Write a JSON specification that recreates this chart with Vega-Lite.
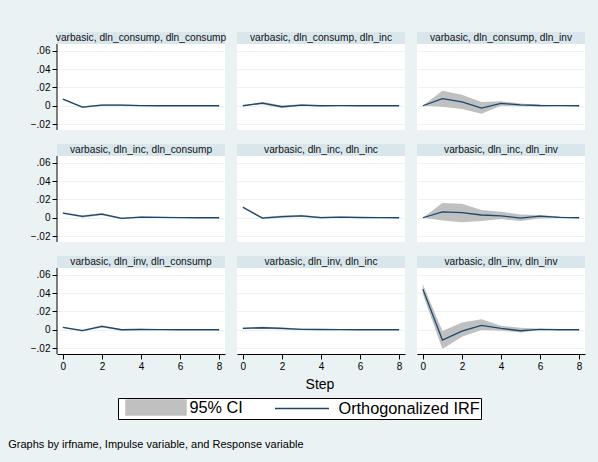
{
  "$schema": "https://vega.github.io/schema/vega-lite/v6.json",
  "background": "#EAF2F3",
  "padding": {"left": 8, "top": 31, "right": 15, "bottom": 14},
  "bounds": "flush",
  "config": {
    "font": "Liberation Sans",
    "view": {"fill": "white", "stroke": null},
    "axis": {"labelColor": "black", "tickColor": "black", "domainColor": "black", "labelFont": "Liberation Sans", "labelOverlap": false},
    "axisY": {"labelOverlap": false}
  },
  "title": {"text": "Graphs by irfname, Impulse variable, and Response variable", "orient": "bottom", "anchor": "start", "frame": "bounds", "fontSize": 11, "fontWeight": "normal", "color": "black", "font": "Liberation Sans", "offset": 19, "dx": -22},
  "data": {"values": [
    {"panel": "varbasic, dln_consump, dln_consump", "step": 0, "irf": 0.0073, "lo": 0.0066, "hi": 0.0080},
    {"panel": "varbasic, dln_consump, dln_consump", "step": 1, "irf": -0.0015, "lo": -0.0025, "hi": -0.0005},
    {"panel": "varbasic, dln_consump, dln_consump", "step": 2, "irf": 0.0007, "lo": -0.0003, "hi": 0.0017},
    {"panel": "varbasic, dln_consump, dln_consump", "step": 3, "irf": 0.0007, "lo": -0.0002, "hi": 0.0016},
    {"panel": "varbasic, dln_consump, dln_consump", "step": 4, "irf": 0.0001, "lo": -0.0005, "hi": 0.0007},
    {"panel": "varbasic, dln_consump, dln_consump", "step": 5, "irf": 0.0000, "lo": -0.0003, "hi": 0.0003},
    {"panel": "varbasic, dln_consump, dln_consump", "step": 6, "irf": 0.0000, "lo": -0.0002, "hi": 0.0002},
    {"panel": "varbasic, dln_consump, dln_consump", "step": 7, "irf": 0.0000, "lo": -0.0001, "hi": 0.0001},
    {"panel": "varbasic, dln_consump, dln_consump", "step": 8, "irf": 0.0000, "lo": 0.0000, "hi": 0.0000},
    {"panel": "varbasic, dln_consump, dln_inc", "step": 0, "irf": 0.0000, "lo": 0.0000, "hi": 0.0000},
    {"panel": "varbasic, dln_consump, dln_inc", "step": 1, "irf": 0.0029, "lo": 0.0014, "hi": 0.0044},
    {"panel": "varbasic, dln_consump, dln_inc", "step": 2, "irf": -0.0011, "lo": -0.0025, "hi": 0.0003},
    {"panel": "varbasic, dln_consump, dln_inc", "step": 3, "irf": 0.0007, "lo": -0.0003, "hi": 0.0017},
    {"panel": "varbasic, dln_consump, dln_inc", "step": 4, "irf": 0.0000, "lo": -0.0006, "hi": 0.0006},
    {"panel": "varbasic, dln_consump, dln_inc", "step": 5, "irf": 0.0001, "lo": -0.0003, "hi": 0.0004},
    {"panel": "varbasic, dln_consump, dln_inc", "step": 6, "irf": 0.0000, "lo": -0.0002, "hi": 0.0002},
    {"panel": "varbasic, dln_consump, dln_inc", "step": 7, "irf": 0.0000, "lo": -0.0001, "hi": 0.0001},
    {"panel": "varbasic, dln_consump, dln_inc", "step": 8, "irf": 0.0000, "lo": 0.0000, "hi": 0.0000},
    {"panel": "varbasic, dln_consump, dln_inv", "step": 0, "irf": 0.0000, "lo": 0.0000, "hi": 0.0000},
    {"panel": "varbasic, dln_consump, dln_inv", "step": 1, "irf": 0.0077, "lo": -0.0010, "hi": 0.0165},
    {"panel": "varbasic, dln_consump, dln_inv", "step": 2, "irf": 0.0042, "lo": -0.0035, "hi": 0.0120},
    {"panel": "varbasic, dln_consump, dln_inv", "step": 3, "irf": -0.0025, "lo": -0.0088, "hi": 0.0040},
    {"panel": "varbasic, dln_consump, dln_inv", "step": 4, "irf": 0.0025, "lo": 0.0000, "hi": 0.0050},
    {"panel": "varbasic, dln_consump, dln_inv", "step": 5, "irf": 0.0010, "lo": -0.0006, "hi": 0.0025},
    {"panel": "varbasic, dln_consump, dln_inv", "step": 6, "irf": 0.0003, "lo": -0.0008, "hi": 0.0012},
    {"panel": "varbasic, dln_consump, dln_inv", "step": 7, "irf": 0.0002, "lo": -0.0003, "hi": 0.0006},
    {"panel": "varbasic, dln_consump, dln_inv", "step": 8, "irf": 0.0000, "lo": 0.0000, "hi": 0.0000},
    {"panel": "varbasic, dln_inc, dln_consump", "step": 0, "irf": 0.0051, "lo": 0.0043, "hi": 0.0059},
    {"panel": "varbasic, dln_inc, dln_consump", "step": 1, "irf": 0.0015, "lo": 0.0003, "hi": 0.0027},
    {"panel": "varbasic, dln_inc, dln_consump", "step": 2, "irf": 0.0040, "lo": 0.0028, "hi": 0.0052},
    {"panel": "varbasic, dln_inc, dln_consump", "step": 3, "irf": -0.0007, "lo": -0.0017, "hi": 0.0003},
    {"panel": "varbasic, dln_inc, dln_consump", "step": 4, "irf": 0.0007, "lo": -0.0001, "hi": 0.0015},
    {"panel": "varbasic, dln_inc, dln_consump", "step": 5, "irf": 0.0004, "lo": -0.0002, "hi": 0.0010},
    {"panel": "varbasic, dln_inc, dln_consump", "step": 6, "irf": 0.0001, "lo": -0.0002, "hi": 0.0004},
    {"panel": "varbasic, dln_inc, dln_consump", "step": 7, "irf": 0.0000, "lo": -0.0001, "hi": 0.0001},
    {"panel": "varbasic, dln_inc, dln_consump", "step": 8, "irf": 0.0000, "lo": 0.0000, "hi": 0.0000},
    {"panel": "varbasic, dln_inc, dln_inc", "step": 0, "irf": 0.0115, "lo": 0.0105, "hi": 0.0125},
    {"panel": "varbasic, dln_inc, dln_inc", "step": 1, "irf": -0.0003, "lo": -0.0014, "hi": 0.0008},
    {"panel": "varbasic, dln_inc, dln_inc", "step": 2, "irf": 0.0012, "lo": -0.0001, "hi": 0.0025},
    {"panel": "varbasic, dln_inc, dln_inc", "step": 3, "irf": 0.0020, "lo": 0.0008, "hi": 0.0032},
    {"panel": "varbasic, dln_inc, dln_inc", "step": 4, "irf": 0.0001, "lo": -0.0008, "hi": 0.0010},
    {"panel": "varbasic, dln_inc, dln_inc", "step": 5, "irf": 0.0007, "lo": -0.0001, "hi": 0.0015},
    {"panel": "varbasic, dln_inc, dln_inc", "step": 6, "irf": 0.0003, "lo": -0.0002, "hi": 0.0008},
    {"panel": "varbasic, dln_inc, dln_inc", "step": 7, "irf": 0.0001, "lo": -0.0001, "hi": 0.0003},
    {"panel": "varbasic, dln_inc, dln_inc", "step": 8, "irf": 0.0000, "lo": 0.0000, "hi": 0.0000},
    {"panel": "varbasic, dln_inc, dln_inv", "step": 0, "irf": 0.0000, "lo": 0.0000, "hi": 0.0000},
    {"panel": "varbasic, dln_inc, dln_inv", "step": 1, "irf": 0.0065, "lo": -0.0030, "hi": 0.0160},
    {"panel": "varbasic, dln_inc, dln_inv", "step": 2, "irf": 0.0055, "lo": -0.0050, "hi": 0.0153},
    {"panel": "varbasic, dln_inc, dln_inv", "step": 3, "irf": 0.0030, "lo": -0.0036, "hi": 0.0084},
    {"panel": "varbasic, dln_inc, dln_inv", "step": 4, "irf": 0.0020, "lo": -0.0015, "hi": 0.0065},
    {"panel": "varbasic, dln_inc, dln_inv", "step": 5, "irf": -0.0003, "lo": -0.0036, "hi": 0.0036},
    {"panel": "varbasic, dln_inc, dln_inv", "step": 6, "irf": 0.0018, "lo": -0.0007, "hi": 0.0030},
    {"panel": "varbasic, dln_inc, dln_inv", "step": 7, "irf": 0.0004, "lo": -0.0004, "hi": 0.0015},
    {"panel": "varbasic, dln_inc, dln_inv", "step": 8, "irf": 0.0000, "lo": 0.0000, "hi": 0.0000},
    {"panel": "varbasic, dln_inv, dln_consump", "step": 0, "irf": 0.0026, "lo": 0.0018, "hi": 0.0034},
    {"panel": "varbasic, dln_inv, dln_consump", "step": 1, "irf": -0.0010, "lo": -0.0020, "hi": 0.0000},
    {"panel": "varbasic, dln_inv, dln_consump", "step": 2, "irf": 0.0037, "lo": 0.0025, "hi": 0.0049},
    {"panel": "varbasic, dln_inv, dln_consump", "step": 3, "irf": 0.0000, "lo": -0.0009, "hi": 0.0009},
    {"panel": "varbasic, dln_inv, dln_consump", "step": 4, "irf": 0.0003, "lo": -0.0004, "hi": 0.0010},
    {"panel": "varbasic, dln_inv, dln_consump", "step": 5, "irf": 0.0001, "lo": -0.0002, "hi": 0.0004},
    {"panel": "varbasic, dln_inv, dln_consump", "step": 6, "irf": 0.0000, "lo": -0.0001, "hi": 0.0001},
    {"panel": "varbasic, dln_inv, dln_consump", "step": 7, "irf": 0.0000, "lo": 0.0000, "hi": 0.0000},
    {"panel": "varbasic, dln_inv, dln_consump", "step": 8, "irf": 0.0000, "lo": 0.0000, "hi": 0.0000},
    {"panel": "varbasic, dln_inv, dln_inc", "step": 0, "irf": 0.0015, "lo": 0.0005, "hi": 0.0025},
    {"panel": "varbasic, dln_inv, dln_inc", "step": 1, "irf": 0.0022, "lo": 0.0010, "hi": 0.0034},
    {"panel": "varbasic, dln_inv, dln_inc", "step": 2, "irf": 0.0015, "lo": 0.0003, "hi": 0.0027},
    {"panel": "varbasic, dln_inv, dln_inc", "step": 3, "irf": 0.0004, "lo": -0.0004, "hi": 0.0012},
    {"panel": "varbasic, dln_inv, dln_inc", "step": 4, "irf": 0.0003, "lo": -0.0003, "hi": 0.0009},
    {"panel": "varbasic, dln_inv, dln_inc", "step": 5, "irf": 0.0001, "lo": -0.0002, "hi": 0.0004},
    {"panel": "varbasic, dln_inv, dln_inc", "step": 6, "irf": 0.0000, "lo": -0.0001, "hi": 0.0001},
    {"panel": "varbasic, dln_inv, dln_inc", "step": 7, "irf": 0.0000, "lo": 0.0000, "hi": 0.0000},
    {"panel": "varbasic, dln_inv, dln_inc", "step": 8, "irf": 0.0000, "lo": 0.0000, "hi": 0.0000},
    {"panel": "varbasic, dln_inv, dln_inv", "step": 0, "irf": 0.0444, "lo": 0.0389, "hi": 0.0498},
    {"panel": "varbasic, dln_inv, dln_inv", "step": 1, "irf": -0.0113, "lo": -0.0210, "hi": -0.0015},
    {"panel": "varbasic, dln_inv, dln_inv", "step": 2, "irf": -0.0015, "lo": -0.0076, "hi": 0.0080},
    {"panel": "varbasic, dln_inv, dln_inv", "step": 3, "irf": 0.0047, "lo": -0.0004, "hi": 0.0116},
    {"panel": "varbasic, dln_inv, dln_inv", "step": 4, "irf": 0.0015, "lo": -0.0010, "hi": 0.0044},
    {"panel": "varbasic, dln_inv, dln_inv", "step": 5, "irf": -0.0011, "lo": -0.0030, "hi": 0.0022},
    {"panel": "varbasic, dln_inv, dln_inv", "step": 6, "irf": 0.0004, "lo": -0.0004, "hi": 0.0010},
    {"panel": "varbasic, dln_inv, dln_inv", "step": 7, "irf": 0.0000, "lo": -0.0003, "hi": 0.0003},
    {"panel": "varbasic, dln_inv, dln_inv", "step": 8, "irf": 0.0000, "lo": 0.0000, "hi": 0.0000}
  ]},
  "facet": {
    "field": "panel", "type": "nominal",
    "sort": ["varbasic, dln_consump, dln_consump", "varbasic, dln_consump, dln_inc", "varbasic, dln_consump, dln_inv", "varbasic, dln_inc, dln_consump", "varbasic, dln_inc, dln_inc", "varbasic, dln_inc, dln_inv", "varbasic, dln_inv, dln_consump", "varbasic, dln_inv, dln_inc", "varbasic, dln_inv, dln_inv"],
    "header": {"title": "Step", "titleOrient": "bottom", "labels": false, "labelExpr": "''", "labelFontSize": 1, "labelPadding": 0, "titleFontSize": 14, "titleFontWeight": "normal", "titleColor": "black", "titleFont": "Liberation Sans", "titlePadding": 7}
  },
  "columns": 3,
  "spacing": {"row": 14, "column": 12},
  "spec": {
    "width": 168,
    "height": 98,
    "layer": [
      {
        "transform": [{"filter": "datum.step == 0"}],
        "mark": {"type": "rect", "color": "#D9E6EB"},
        "encoding": {
          "x": {"datum": -0.3, "type": "quantitative", "scale": {"domain": [-0.3, 8.3], "nice": false, "zero": false}},
          "x2": {"datum": 8.3},
          "y": {"datum": 0.0675, "type": "quantitative", "scale": {"domain": [-0.0265, 0.0806], "nice": false, "zero": false}},
          "y2": {"datum": 0.0806}
        }
      },
      {
        "transform": [{"filter": "datum.step == 0"}],
        "mark": {"type": "text", "fontSize": 10.2, "color": "#111111", "font": "Liberation Sans", "baseline": "middle"},
        "encoding": {
          "x": {"datum": 4, "type": "quantitative"},
          "y": {"datum": 0.0742, "type": "quantitative"},
          "text": {"field": "panel"}
        }
      },
      {
        "mark": {"type": "area", "opacity": 1},
        "encoding": {
          "x": {"field": "step", "type": "quantitative",
            "axis": {"values": [0, 2, 4, 6, 8], "tickCount": 10, "title": null, "grid": false, "tickSize": 5, "labelFontSize": 10, "labelPadding": 2, "domainWidth": 1, "labelFlush": false, "labelOverlap": false}},
          "y": {"field": "lo", "type": "quantitative",
            "axis": {"values": [-0.02, 0, 0.02, 0.04, 0.06], "tickCount": 10, "title": null, "grid": true, "gridColor": "#EAF2F3", "gridWidth": 1, "domain": false, "tickSize": 5, "labelFontSize": 10, "labelPadding": 2, "labelOverlap": false,
              "labelExpr": "datum.value == 0 ? '0' : replace(format(datum.value, '.2f'), '0.', '.')"}},
          "y2": {"field": "hi"},
          "color": {"datum": "95% CI", "type": "nominal",
            "scale": {"domain": ["95% CI", "Orthogonalized IRF"], "range": ["#C0C0C0", "#1A476F"]},
            "legend": {"title": null, "orient": "none", "legendX": 61, "legendY": 366, "direction": "horizontal",
              "strokeColor": "black", "fillColor": "white", "padding": 1, "symbolSize": 225, "symbolStrokeWidth": 1.5, "symbolOffset": 28.5,
              "labelFontSize": 16.3, "labelFont": "Liberation Sans", "labelColor": "black", "labelOffset": 25, "columnPadding": 25, "symbolOpacity": 1,
              "encode": {"symbols": {"update": {
                "shape": {"signal": "datum.value == '95% CI' ? 'M-4,-1H4V1H-4Z' : 'M-4,0H3.2'"},
                "fill": {"signal": "datum.value == '95% CI' ? '#C0C0C0' : 'transparent'"},
                "stroke": {"signal": "datum.value == '95% CI' ? '#C0C0C0' : '#1A476F'"},
                "opacity": {"value": 1}
              }}}}}
        }
      },
      {
        "mark": {"type": "line", "strokeWidth": 1.3},
        "encoding": {
          "x": {"field": "step", "type": "quantitative"},
          "y": {"field": "irf", "type": "quantitative"},
          "color": {"datum": "Orthogonalized IRF", "type": "nominal"}
        }
      },
      {
        "transform": [{"filter": {"and": [{"field": "step", "equal": 0}, {"field": "panel", "oneOf": ["varbasic, dln_consump, dln_consump", "varbasic, dln_inc, dln_consump", "varbasic, dln_inv, dln_consump"]}]}}],
        "mark": {"type": "rule", "color": "black", "strokeWidth": 1},
        "encoding": {
          "x": {"datum": -0.3, "type": "quantitative"},
          "y": {"datum": -0.0265, "type": "quantitative"},
          "y2": {"datum": 0.0675}
        }
      }
    ]
  }
}
